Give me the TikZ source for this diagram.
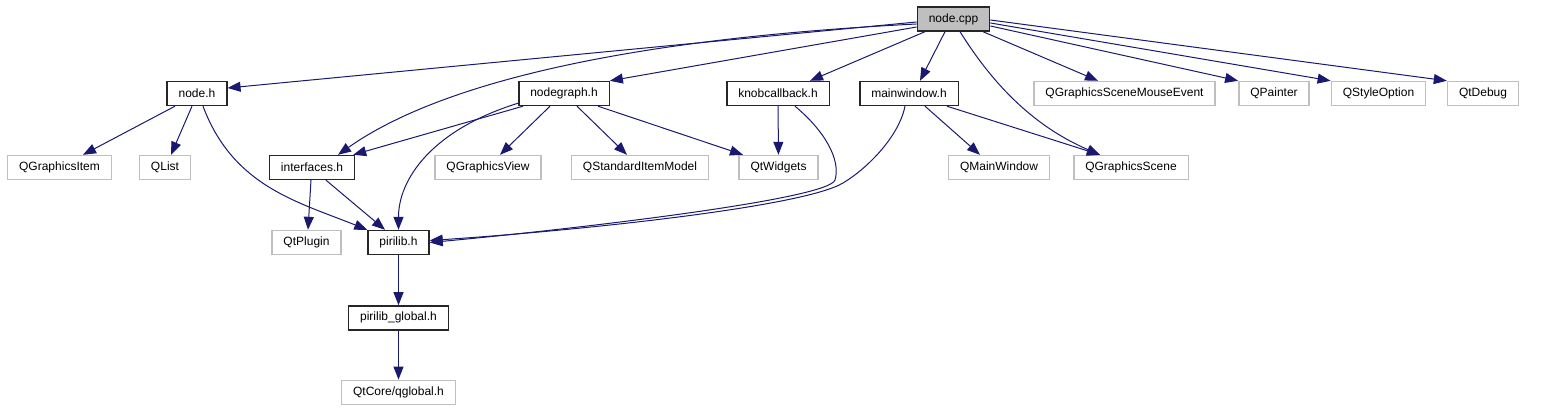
\documentclass[tikz,border=0pt]{standalone}
\usepackage{fontspec}
\setmainfont{Liberation Sans}
\usetikzlibrary{arrows.meta,positioning}
\definecolor{EdgeBlue}{RGB}{25,25,112}
\definecolor{BoxGray}{RGB}{191,191,191}

\begin{document}
\begin{tikzpicture}[x=1pt, y=1pt,
  every node/.style={font=\fontsize{12}{14}\selectfont, inner xsep=11.5pt,
                     inner ysep=0pt, minimum height=24pt},
  hdr/.style={draw=black!85, line width=1.4pt},
  sys/.style={draw=BoxGray, line width=1.4pt},
  inc/.style={-{Triangle[length=13pt,width=10pt]}, line width=1pt, EdgeBlue}]
\useasboundingbox (0,0) rectangle (1552,411);
\node[hdr, fill=BoxGray] (cpp) at (953.5,392) {node.cpp};
\node[hdr] (nodeh) at (197,317.5) {node.h};
\node[hdr] (graph) at (564,317.5) {nodegraph.h};
\node[hdr] (knob) at (778,317.5) {knobcallback.h};
\node[hdr] (mainwin) at (909,317.5) {mainwindow.h};
\node[sys] (mouse) at (1124.5,317.5) {QGraphicsSceneMouseEvent};
\node[sys] (painter) at (1274,317.5) {QPainter};
\node[sys] (styleopt) at (1378.5,317.5) {QStyleOption};
\node[sys] (debug) at (1483,317.5) {QtDebug};
\node[sys] (gitem) at (59.5,243.5) {QGraphicsItem};
\node[sys] (qlist) at (165,243.5) {QList};
\node[hdr] (iface) at (312,243.5) {interfaces.h};
\node[sys] (gview) at (488,243.5) {QGraphicsView};
\node[sys] (stdmodel) at (640,243.5) {QStandardItemModel};
\node[sys] (widgets) at (778.5,243.5) {QtWidgets};
\node[sys] (qmainwin) at (999,243.5) {QMainWindow};
\node[sys] (gscene) at (1131,243.5) {QGraphicsScene};
\node[sys] (plugin) at (306.5,168.5) {QtPlugin};
\node[hdr] (pirilib) at (398.5,168.5) {pirilib.h};
\node[hdr, below=50pt of pirilib] (global) {pirilib\_global.h};
\node[sys, below=49pt of global] (qglobal) {QtCore/qglobal.h};
\draw[inc] ([yshift=-3pt]cpp.west) -- ([yshift=5.5pt]nodeh.east);
\draw[inc] ([yshift=-5pt]cpp.west) .. controls +(-316,-16) and +(92,65) .. ([xshift=26pt]iface.north);
\draw[inc] ([yshift=-8pt]cpp.west) -- (graph.north east);
\draw[inc] ([xshift=-28.5pt]cpp.south) -- ([xshift=32pt]knob.north);
\draw[inc] ([xshift=-8.5pt]cpp.south) -- ([xshift=11pt]mainwin.north);
\draw[inc] ([xshift=6.5pt]cpp.south) .. controls +(30,-48) and +(-70,30) .. ([xshift=-31pt]gscene.north);
\draw[inc] ([xshift=29.5pt]cpp.south) -- ([xshift=-26.5pt]mouse.north);
\draw[inc] ([yshift=-7pt]cpp.east) -- (painter.north west);
\draw[inc] ([yshift=-4pt]cpp.east) -- (styleopt.north west);
\draw[inc] ([yshift=-1pt]cpp.east) -- (debug.north west);
\draw[inc] ([xshift=-22pt]nodeh.south) -- ([xshift=23.5pt]gitem.north);
\draw[inc] ([xshift=-5pt]nodeh.south) -- ([xshift=6pt]qlist.north);
\draw[inc] ([xshift=6pt]nodeh.south) .. controls +(30,-80) and +(-70,28) .. (pirilib.north west);
\draw[inc] ([xshift=-41pt]graph.south) -- ([xshift=-2pt]iface.north east);
\draw[inc] ([yshift=3pt]graph.south west) .. controls +(-87,-27) and +(0,50) .. (pirilib.north);
\draw[inc] ([xshift=-14pt]graph.south) -- ([xshift=12pt]gview.north);
\draw[inc] ([xshift=13pt]graph.south) -- ([xshift=-13pt]stdmodel.north);
\draw[inc] ([xshift=34pt]graph.south) -- ([xshift=-35.5pt]widgets.north);
\draw[inc] (knob) -- (widgets);
\draw[inc] ([xshift=17pt]knob.south) .. controls +(30,-25) and +(6,20) .. (835,231)
  .. controls +(-6,-20) and +(130,12) .. (pirilib.east);
\draw[inc] ([xshift=-4pt]mainwin.south) .. controls +(-6,-30) and +(25,15) .. (843,228)
  .. controls +(-40,-24) and +(150,10) .. ([yshift=2pt]pirilib.east);
\draw[inc] ([xshift=16pt]mainwin.south) -- ([xshift=-19pt]qmainwin.north);
\draw[inc] ([xshift=38pt]mainwin.south) -- ([xshift=-31pt]gscene.north);
\draw[inc] ([xshift=-1pt]iface.south) -- ([xshift=1.5pt]plugin.north);
\draw[inc] ([xshift=14pt]iface.south) -- ([xshift=-13.5pt]pirilib.north);
\draw[inc] (pirilib) -- (global);
\draw[inc] (global) -- (qglobal);
\end{tikzpicture}
\end{document}
